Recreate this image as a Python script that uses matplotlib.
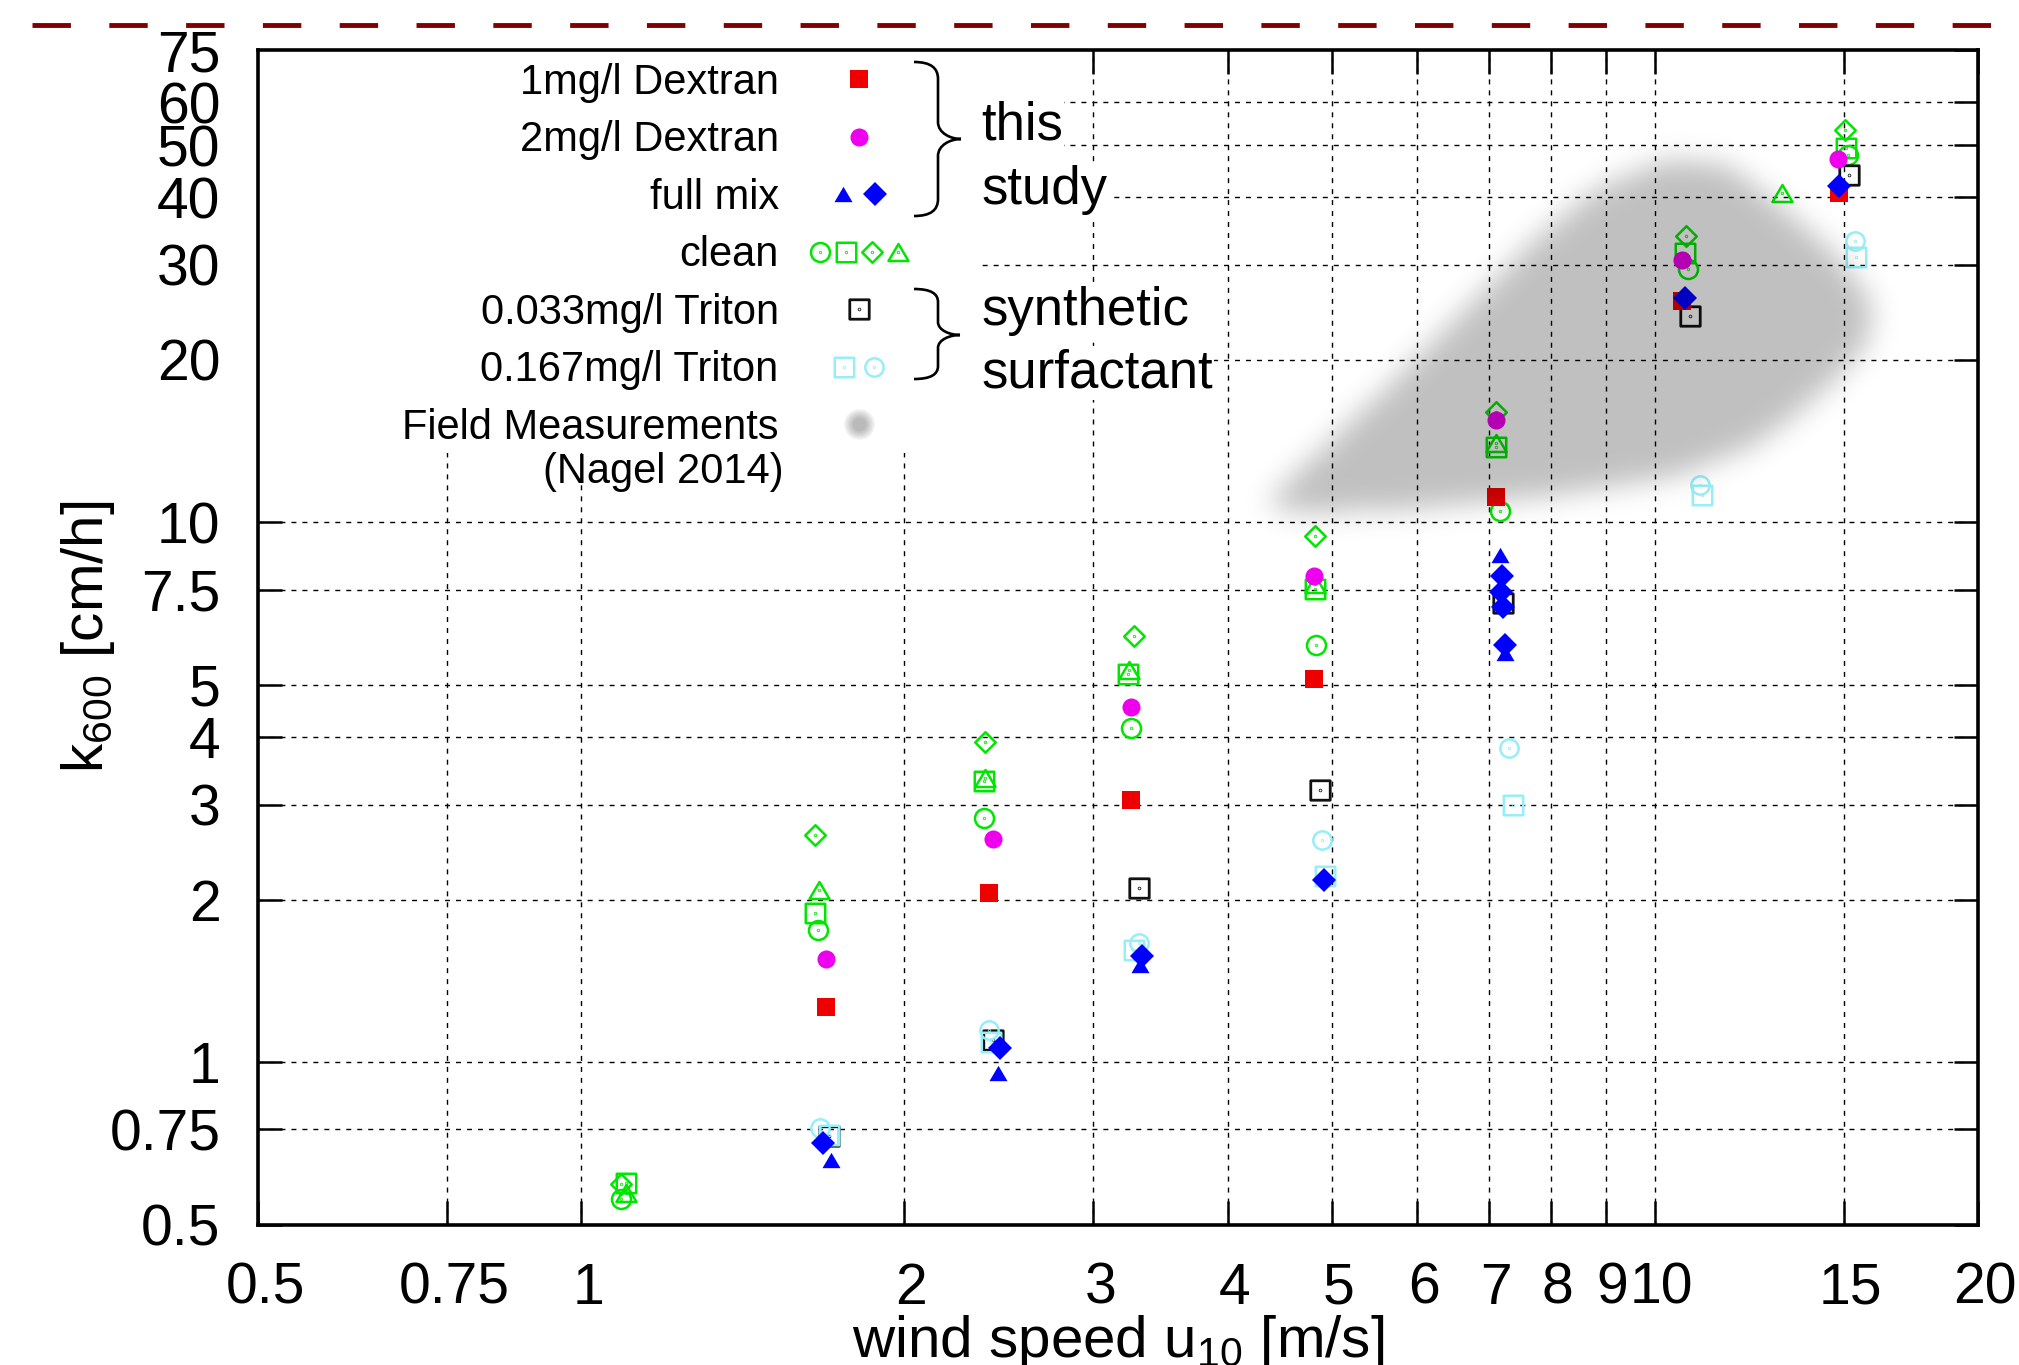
import numpy as np
import matplotlib
matplotlib.use('Agg')
import matplotlib.pyplot as plt
from matplotlib.path import Path
from matplotlib.lines import Line2D
from matplotlib.patches import Rectangle, PathPatch
from matplotlib.legend_handler import HandlerTuple
from matplotlib.transforms import ScaledTranslation

plt.rcParams['font.family'] = ['Liberation Sans', 'DejaVu Sans']
plt.rcParams['mathtext.fontset'] = 'custom'
plt.rcParams['mathtext.rm'] = 'Liberation Sans'
plt.rcParams['mathtext.it'] = 'Liberation Sans:italic'

# ---------------- data ----------------
x_ticks = [0.5, 0.75, 1, 2, 3, 4, 5, 6, 7, 8, 9, 10, 15, 20]
x_tick_labels = ['0.5', '0.75', '1', '2', '3', '4', '5', '6', '7', '8', '9', '10', '15', '20']
y_ticks = [0.5, 0.75, 1, 2, 3, 4, 5, 7.5, 10, 20, 30, 40, 50, 60, 75]
y_tick_labels = ['0.5', '0.75', '1', '2', '3', '4', '5', '7.5', '10', '20', '30', '40', '50', '60', '75']

clean_circ_u = [1.09, 1.66, 2.37, 3.25, 4.84, 7.17, 10.73, 15.12]
clean_circ_k = [0.557, 1.757, 2.834, 4.163, 5.93, 10.51, 29.5, 48.0]
clean_sq_u = [1.10, 1.65, 2.37, 3.23, 4.82, 7.11, 10.67, 15.07]
clean_sq_k = [0.597, 1.889, 3.319, 5.241, 7.53, 13.77, 31.6, 49.4]
clean_dia_u = [1.09, 1.65, 2.38, 3.27, 4.82, 7.11, 10.70, 15.04]
clean_dia_k = [0.595, 2.636, 3.921, 6.144, 9.415, 15.98, 33.88, 53.25]
clean_tri_u = [1.10, 1.665, 2.38, 3.24, 4.83, 7.11, 13.15]
clean_tri_k = [0.572, 2.085, 3.362, 5.331, 7.7, 14.05, 40.76]

triton033_u = [1.70, 2.42, 3.31, 4.88, 7.22, 10.78, 15.17]
triton033_k = [0.73, 1.099, 2.102, 3.198, 7.095, 24.07, 44.08]
triton167_sq_u = [1.70, 2.41, 3.27, 4.93, 7.37, 11.06, 15.38]
triton167_sq_k = [0.732, 1.091, 1.614, 2.207, 2.988, 11.25, 31.02]
triton167_circ_u = [1.67, 2.40, 3.31, 4.90, 7.31, 11.02, 15.37]
triton167_circ_k = [0.755, 1.147, 1.663, 2.573, 3.82, 11.74, 33.25]

dextran1_u = [1.69, 2.40, 3.25, 4.815, 7.12, 10.61, 14.83]
dextran1_k = [1.265, 2.058, 3.06, 5.13, 11.15, 25.67, 40.76]
dextran2_u = [1.69, 2.42, 3.25, 4.81, 7.11, 10.61, 14.82]
dextran2_k = [1.553, 2.591, 4.552, 7.938, 15.49, 30.67, 47.13]

mix_tri_u = [1.71, 2.445, 3.315, 7.17, 7.25]
mix_tri_k = [0.658, 0.954, 1.514, 8.708, 5.73]
mix_dia_u = [1.68, 2.455, 3.326, 4.92, 7.20, 7.19, 7.215, 7.25, 10.67, 14.83]
mix_dia_k = [0.708, 1.062, 1.573, 2.176, 7.94, 7.44, 6.98, 5.93, 26.08, 42.05]

# outline of the field-measurement cloud (Nagel 2014)
field_u = [4.37, 4.95, 5.59, 6.52, 7.69, 8.83, 10.25, 11.64, 13.18, 14.72,
           15.9, 15.8, 14.69, 13.36, 12.27, 10.42, 8.0, 6.0, 4.81, 4.43]
field_k = [11.03, 13.96, 17.59, 23.8, 33.2, 41.5, 47.0, 46.0, 38.0, 31.3,
           25.55, 21.67, 18.38, 15.58, 13.81, 12.17, 11.21, 10.61, 10.43, 10.55]

legend_labels = ['1mg/l Dextran', '2mg/l Dextran', 'full mix', 'clean',
                 '0.033mg/l Triton', '0.167mg/l Triton', 'Field Measurements']

# ---------------- styles ----------------
GREEN = '#00e600'
RED = '#ee0000'
MAGENTA = '#ee00ee'
BLUE = '#0000ff'
CYAN = '#96eef8'
BLACK = '#111111'

W, H = 2019, 1365
fig = plt.figure(figsize=(W / 100, H / 100), dpi=100)
ax = fig.add_axes([258 / W, 1 - 1224.5 / H, 1720 / W, 1174.5 / H])
ax.set_xscale('log')
ax.set_yscale('log')
ax.set_xlim(0.5, 20)
ax.set_ylim(0.5, 75)
ax.set_autoscale_on(False)
ax.set_xticks(x_ticks, labels=x_tick_labels)
ax.set_yticks(y_ticks, labels=y_tick_labels)
ax.minorticks_off()
ax.tick_params(which='major', direction='in', length=17, width=1.8,
               top=True, right=True, labelsize=41, pad=27)
for s in ax.spines.values():
    s.set_linewidth(2.6)


def px2ax(X, Y):
    return ax.transAxes.inverted().transform((X, H - Y))


# grid
grid_kw = dict(color='black', lw=1.0, ls=(0, (3.6, 4.3)), zorder=1)
for v in x_ticks[1:-1]:
    ax.axvline(v, **grid_kw)
for h in y_ticks[1:-1]:
    ax.axhline(h, **grid_kw)

# opaque key area
kx0, ky0 = px2ax(258, 453)
kx1, ky1 = px2ax(981, 50)
ax.add_patch(Rectangle((0, ky0), kx1, 1 - ky0, transform=ax.transAxes,
                       facecolor='white', edgecolor='none', zorder=2))


# ---------------- markers ----------------
def dotted(verts):
    verts = np.asarray(verts, float)
    codes = [Path.MOVETO] + [Path.LINETO] * (len(verts) - 2) + [Path.CLOSEPOLY]
    return Path.make_compound_path(Path(verts, codes), Path.circle((0, 0), 0.04))


SQ = dotted([(-1, -1), (1, -1), (1, 1), (-1, 1), (-1, -1)])
DIA = dotted([(0, -1), (1, 0), (0, 1), (-1, 0), (0, -1)])
TRI = dotted([(0, 0.85), (-1, -0.85), (1, -0.85), (0, 0.85)])
CIRC = Path.make_compound_path(Path.circle((0, 0), 1), Path.circle((0, 0), 0.04))
TRI_F = Path([(0, 0.85), (-1, -0.85), (1, -0.85), (0, 0.85)],
             [Path.MOVETO, Path.LINETO, Path.LINETO, Path.CLOSEPOLY])

ok = dict(ls='none', mfc='none', zorder=5)
h_cc, = ax.plot(clean_circ_u, clean_circ_k, marker=CIRC, ms=13.7, mec=GREEN, mew=1.8, **ok)
h_cs, = ax.plot(clean_sq_u, clean_sq_k, marker=SQ, ms=14, mec=GREEN, mew=1.8, **ok)
h_cd, = ax.plot(clean_dia_u, clean_dia_k, marker=DIA, ms=14.8, mec=GREEN, mew=1.8, **ok)
h_ct, = ax.plot(clean_tri_u, clean_tri_k, marker=TRI, ms=14.4, mec=GREEN, mew=1.8, **ok)
h_t1, = ax.plot(triton033_u, triton033_k, marker=SQ, ms=14, mec=BLACK, mew=2.0, **ok)
h_t2s, = ax.plot(triton167_sq_u, triton167_sq_k, marker=SQ, ms=14, mec=CYAN, mew=1.8, **ok)
h_t2c, = ax.plot(triton167_circ_u, triton167_circ_k, marker=CIRC, ms=13.2, mec=CYAN, mew=1.8, **ok)
h_d1, = ax.plot(dextran1_u, dextran1_k, ls='none', marker='s', ms=13.3, mfc=RED, mec=RED,
                mew=0, zorder=5)
h_d2, = ax.plot(dextran2_u, dextran2_k, ls='none', marker='o', ms=13, mfc=MAGENTA, mec=MAGENTA,
                mew=0, zorder=5)
h_mt, = ax.plot(mix_tri_u, mix_tri_k, ls='none', marker=TRI_F, ms=13, mfc=BLUE, mec=BLUE,
                mew=0, zorder=5)
h_md, = ax.plot(mix_dia_u, mix_dia_k, ls='none', marker='D', ms=12.7, mfc=BLUE, mec=BLUE,
                mew=0, zorder=5)

# ---------------- field cloud (multiplicative grey) ----------------
poly = np.column_stack([field_u, field_k])
poly_ax = ax.transAxes.inverted().transform(ax.transData.transform(poly))
nx, ny = 688, 470
xs = (np.arange(nx) + 0.5) / nx
ys = (np.arange(ny) + 0.5) / ny
XX, YY = np.meshgrid(xs, ys)
inside = Path(poly_ax).contains_points(
    np.column_stack([XX.ravel(), YY.ravel()])).reshape(ny, nx).astype(float)


def gkern(sig):
    r = int(3 * sig) + 1
    t = np.arange(-r, r + 1)
    g = np.exp(-0.5 * (t / sig) ** 2)
    return g / g.sum()


sig_px = 14.0
kxk = gkern(sig_px / (1720 / nx))
kyk = gkern(sig_px / (1174.5 / ny))
blur = np.apply_along_axis(lambda r: np.convolve(r, kxk, mode='same'), 1, inside)
blur = np.apply_along_axis(lambda c: np.convolve(c, kyk, mode='same'), 0, blur)
rgba = np.zeros((ny, nx, 4))
rgba[..., 3] = 0.25 * blur
ax.imshow(rgba, extent=(0, 1, 0, 1), transform=ax.transAxes, origin='lower',
          aspect='auto', interpolation='bilinear', zorder=6)
ax.set_xlim(0.5, 20)
ax.set_ylim(0.5, 75)

# ---------------- legend ----------------
h_field = tuple(Line2D([], [], ls='none', marker='o', ms=s, mfc='black', mec='none', alpha=0.06)
                for s in (22, 19, 16, 13, 10))
h_mix = (h_mt, h_md)
h_clean = (h_cc, h_cs, h_cd, h_ct)
h_t2 = (h_t2s, h_t2c)
handles = [h_d1, h_d2, h_mix, h_clean, h_t1, h_t2, h_field]
lx, ly = px2ax(910, 63)
leg = ax.legend(handles, legend_labels, loc='upper right', bbox_to_anchor=(lx, ly),
                frameon=False, markerfirst=False, numpoints=1, fontsize=30,
                handlelength=2.44, handletextpad=0.71, labelspacing=0.42,
                borderpad=0, borderaxespad=0,
                handler_map={h_mix: HandlerTuple(ndivide=None, pad=-0.895),
                             h_clean: HandlerTuple(ndivide=None, pad=0.074),
                             h_t2: HandlerTuple(ndivide=None, pad=-1.02),
                             h_field: HandlerTuple(ndivide=1)})
leg.set_zorder(7)

nx_, ny_ = px2ax(784, 483)
ax.text(nx_, ny_, '(Nagel 2014)', transform=ax.transAxes, ha='right', va='baseline',
        fontsize=30, zorder=7)

# group annotations
tb = dict(facecolor='white', edgecolor='none', pad=1)
for txt, yb in (('this', 139), ('study', 204), ('synthetic', 325), ('surfactant', 387)):
    tx, ty = px2ax(981, yb)
    ax.text(tx, ty, txt, transform=ax.transAxes, ha='left', va='baseline', fontsize=38,
            zorder=3, bbox=tb)


def brace(x0, xm, xt, ytop, ymid, ybot, r):
    pts = [(x0, ytop), (x0 + 0.7 * (xm - x0), ytop), (xm, ytop + 0.35 * r), (xm, ytop + r),
           (xm, ymid - r),
           (xm, ymid - 0.35 * r), (xm + 0.55 * (xt - xm), ymid), (xt, ymid),
           (xm + 0.55 * (xt - xm), ymid), (xm, ymid + 0.35 * r), (xm, ymid + r),
           (xm, ybot - r),
           (xm, ybot - 0.35 * r), (x0 + 0.7 * (xm - x0), ybot), (x0, ybot)]
    C = Path.CURVE4
    codes = [Path.MOVETO, C, C, C, Path.LINETO, C, C, C, C, C, C, Path.LINETO, C, C, C]
    verts = [px2ax(px, py) for px, py in pts]
    ax.add_patch(PathPatch(Path(verts, codes), transform=ax.transAxes, facecolor='none',
                           edgecolor='black', lw=1.9, zorder=7, clip_on=False))


brace(914, 938, 961, 62, 139, 216, 17)
brace(914, 938, 960, 289, 335, 379, 13)

# ---------------- labels ----------------
ax.set_xlabel('wind speed u$_{\\mathregular{10}}$ [m/s]', fontsize=42)
ax.xaxis.set_label_coords(0.5, px2ax(258, 1313)[1])
ax.set_ylabel('k$_{\\mathregular{600}}$ [cm/h]', fontsize=42)
ax.yaxis.set_label_coords(px2ax(117, 600)[0], 0.5)

shift = ScaledTranslation(0.07, 0, fig.dpi_scale_trans)
for lab in ax.get_xticklabels():
    lab.set_transform(lab.get_transform() + shift)

# dashed rule at the top of the page
fig.add_artist(Line2D([32 / W, 1.0], [1 - 25 / H, 1 - 25 / H], transform=fig.transFigure,
                      color='#800000', lw=3.5, ls=(0, (7.9, 7.9)), dash_capstyle='butt'))

fig.savefig('out.png', dpi=100)
